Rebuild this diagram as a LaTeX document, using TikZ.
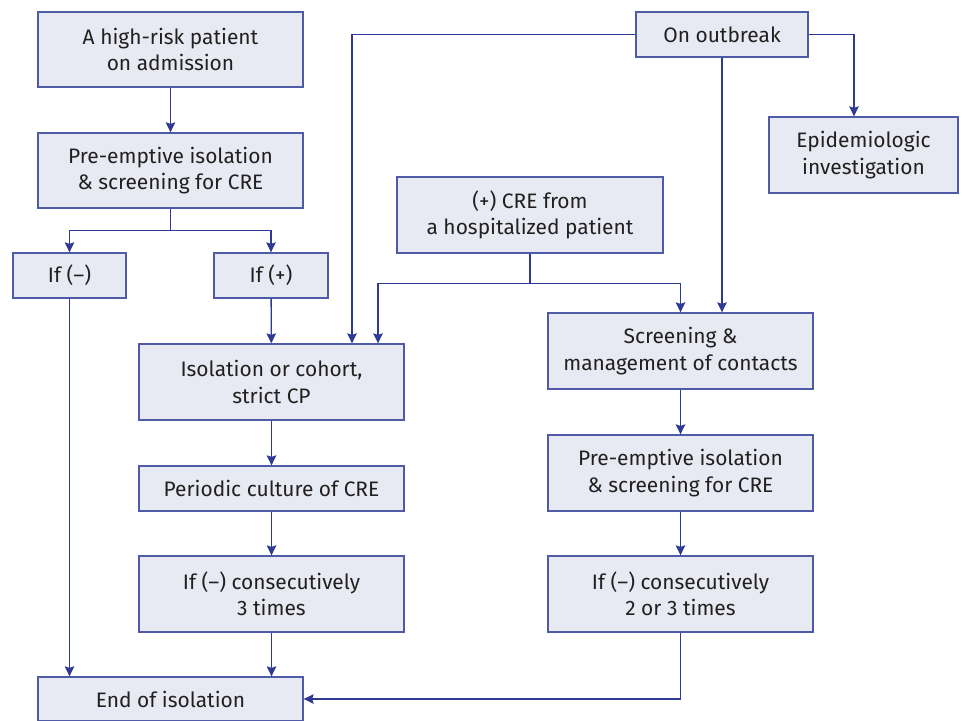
\documentclass[tikz,border=0pt]{standalone}
\usepackage{fontspec}
\setmainfont{Fira Sans}
\usetikzlibrary{arrows.meta,calc}
\definecolor{boxfill}{HTML}{E7EAF2}
\definecolor{boxline}{HTML}{4F5BA6}
\definecolor{arrline}{HTML}{2E3A93}
\definecolor{txt}{HTML}{231F20}
\begin{document}
\begin{tikzpicture}[x=1bp,y=-1bp,
  fbox/.style={draw=boxline,fill=boxfill,line width=1.3bp,inner sep=0pt,align=center,
    text=txt,font=\fontsize{21}{26.5}\selectfont},
  conn/.style={draw=arrline,line width=1.3bp},
  arr/.style={conn,-{Stealth[length=10bp,width=9.5bp,inset=1.5bp]}}]
\useasboundingbox (0,0) rectangle (962,721);
\node[fbox,minimum width=265bp,minimum height=75bp] (b1) at (170.5,49.5) {A high-risk patient\\on admission};
\node[fbox,minimum width=265bp,minimum height=75bp] (b2) at (170.5,170.5) {Pre-emptive isolation\\\& screening for CRE};
\node[fbox,minimum width=113bp,minimum height=45bp] (b3) at (69.5,275.5) {If (–)};
\node[fbox,minimum width=114bp,minimum height=45bp] (b4) at (271,275.5) {If (+)};
\node[fbox,minimum width=172bp,minimum height=45bp] (b5) at (722,34.5) {On outbreak};
\node[fbox,minimum width=189bp,minimum height=76bp] (b6) at (863.5,155) {Epidemiologic\\investigation};
\node[fbox,minimum width=266bp,minimum height=76bp] (b7) at (530,215) {(+) CRE from\\a hospitalized patient};
\node[fbox,minimum width=265bp,minimum height=76bp] (b8) at (271.5,382) {Isolation or cohort,\\strict CP};
\node[fbox,minimum width=265bp,minimum height=76bp] (b9) at (680.5,351) {Screening \&\\management of contacts};
\node[fbox,minimum width=265bp,minimum height=45bp] (b10) at (271.5,488.5) {Periodic culture of CRE};
\node[fbox,minimum width=265bp,minimum height=76bp] (b11) at (680.5,473) {Pre-emptive isolation\\\& screening for CRE};
\node[fbox,minimum width=265bp,minimum height=76bp] (b12) at (271.5,594) {If (–) consecutively\\3 times};
\node[fbox,minimum width=265bp,minimum height=76bp] (b13) at (680.5,594) {If (–) consecutively\\2 or 3 times};
\node[fbox,minimum width=265bp,minimum height=44bp] (b14) at (170.5,699) {End of isolation};
% connectors
\draw[arr] (b1) -- (b2);
\coordinate (j2) at ($(b2.south)+(0,22)$);
\draw[conn] (b2.south) -- (j2);
\draw[arr] (j2) -| (b3.north);
\draw[arr] (j2) -| (b4.north);
\draw[arr] (b3.south) -- (b3.south |- b14.north);
\draw[arr] (b4) -- (b8);
\draw[arr] (b5.west) -| ([xshift=80.5bp]b8.north);
\draw[arr] (b5.east) -| ([xshift=-9.5bp]b6.north);
\draw[arr] (b5.south) -- (b5.south |- b9.north);
\coordinate (j7) at ($(b7.south)+(0,30)$);
\draw[conn] (b7.south) -- (j7);
\draw[arr] (j7) -| ([xshift=106.5bp]b8.north);
\draw[arr] (j7) -| (b9.north);
\draw[arr] (b8) -- (b10);
\draw[arr] (b10) -- (b12);
\draw[arr] (b12.south) -- (b12.south |- b14.north);
\draw[arr] (b9) -- (b11);
\draw[arr] (b11) -- (b13);
\draw[arr] (b13.south) |- (b14.east);
\end{tikzpicture}
\end{document}
